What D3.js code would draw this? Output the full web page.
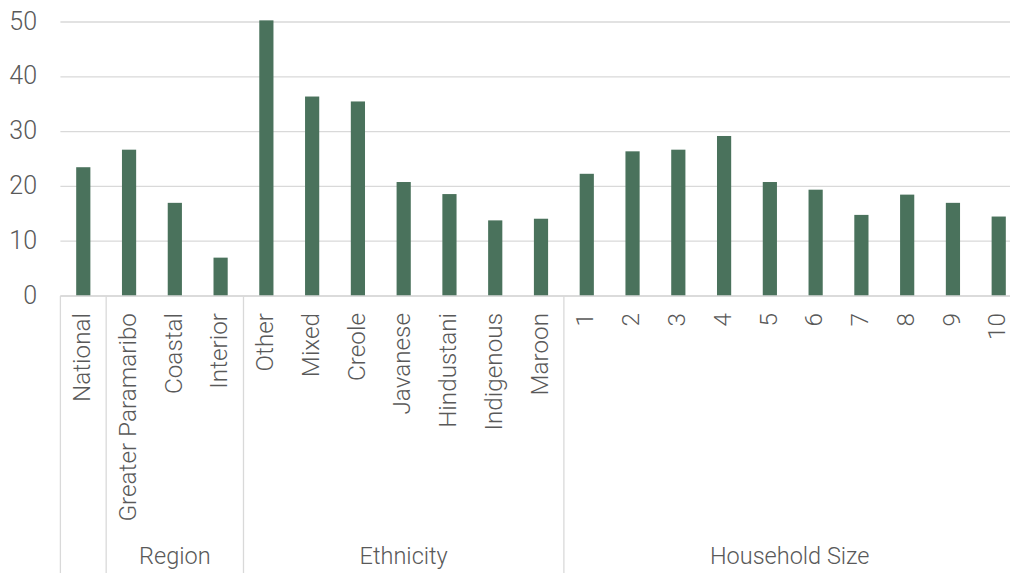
<!DOCTYPE html>
<html>
<head>
<meta charset="utf-8">
<script src="https://cdn.jsdelivr.net/npm/d3@7"></script>
<style>
  html, body { margin: 0; padding: 0; background: #fff; overflow: hidden; }
  svg { display: block; }
  text { font-family: Roboto, "Open Sans", sans-serif; font-weight: 300; fill: #595959; }
</style>
</head>
<body>
<svg id="chart" width="1011" height="573"></svg>
<script>
const categories = ["National", "Greater Paramaribo", "Coastal", "Interior",
  "Other", "Mixed", "Creole", "Javanese", "Hindustani", "Indigenous", "Maroon",
  "1", "2", "3", "4", "5", "6", "7", "8", "9", "10"];
const values = [23.5, 26.7, 17.0, 7.0,
  50.3, 36.4, 35.5, 20.8, 18.6, 13.8, 14.1,
  22.3, 26.4, 26.7, 29.2, 20.8, 19.4, 14.8, 18.5, 17.0, 14.5];
const groupNames = ["", "Region", "Ethnicity", "Household Size"];
const groupStart = ["National", "Greater Paramaribo", "Other", "1"];
const groupEnd = ["National", "Interior", "Maroon", "10"];
const yTicks = [0, 10, 20, 30, 40, 50];

const svg = d3.select("#chart");
const plotLeft = 60.4, plotRight = 1021.6, gridRight = 1010;
const y0 = 296, yTop = 22;

const x = d3.scaleBand().domain(categories).range([plotLeft, plotRight]).paddingInner(0.69).paddingOuter(0.345);
const y = d3.scaleLinear().domain([0, 50]).range([y0, yTop]);

// gridlines
svg.append("g").selectAll("line").data(yTicks).join("line")
  .attr("x1", plotLeft).attr("x2", gridRight)
  .attr("y1", d => y(d)).attr("y2", d => y(d))
  .attr("stroke", "#d9d9d9").attr("stroke-width", 1.3);

// y labels
svg.append("g").selectAll("text").data(yTicks).join("text")
  .attr("x", 37).attr("y", d => y(d) - 1)
  .attr("text-anchor", "end").attr("dominant-baseline", "central")
  .style("font-size", "25px")
  .text(d => d);

// bars
svg.append("g").selectAll("rect").data(categories).join("rect")
  .attr("x", d => x(d)).attr("width", x.bandwidth())
  .attr("y", (d, i) => y(values[i])).attr("height", (d, i) => y(0) - y(values[i]))
  .attr("fill", "#4a725c");

// category labels (rotated)
svg.append("g").selectAll("text").data(categories).join("text")
  .attr("transform", d => `translate(${x(d) + x.bandwidth() / 2 - 1.8},313) rotate(-90)`)
  .attr("text-anchor", "end").attr("dominant-baseline", "central")
  .style("font-size", "24.3px")
  .text(d => d);

// separators
const step = x.step();
const edgeOf = c => x(c) - (step - x.bandwidth()) / 2;
const sepX = groupStart.map(c => edgeOf(c));
svg.append("g").selectAll("line").data(sepX).join("line")
  .attr("x1", d => d).attr("x2", d => d)
  .attr("y1", y0).attr("y2", 573)
  .attr("stroke", "#d9d9d9").attr("stroke-width", 1.3);

// group labels
svg.append("g").selectAll("text").data(groupNames).join("text")
  .attr("x", (d, i) => (edgeOf(groupStart[i]) + edgeOf(groupEnd[i]) + step) / 2 - (i === 3 ? 3 : 0))
  .attr("y", 564)
  .attr("text-anchor", "middle")
  .style("font-size", "23.5px")
  .text(d => d);

// x axis line
svg.append("line").attr("x1", plotLeft).attr("x2", gridRight)
  .attr("y1", y0).attr("y2", y0).attr("stroke", "#d9d9d9").attr("stroke-width", 1.3);
</script>
</body>
</html>
